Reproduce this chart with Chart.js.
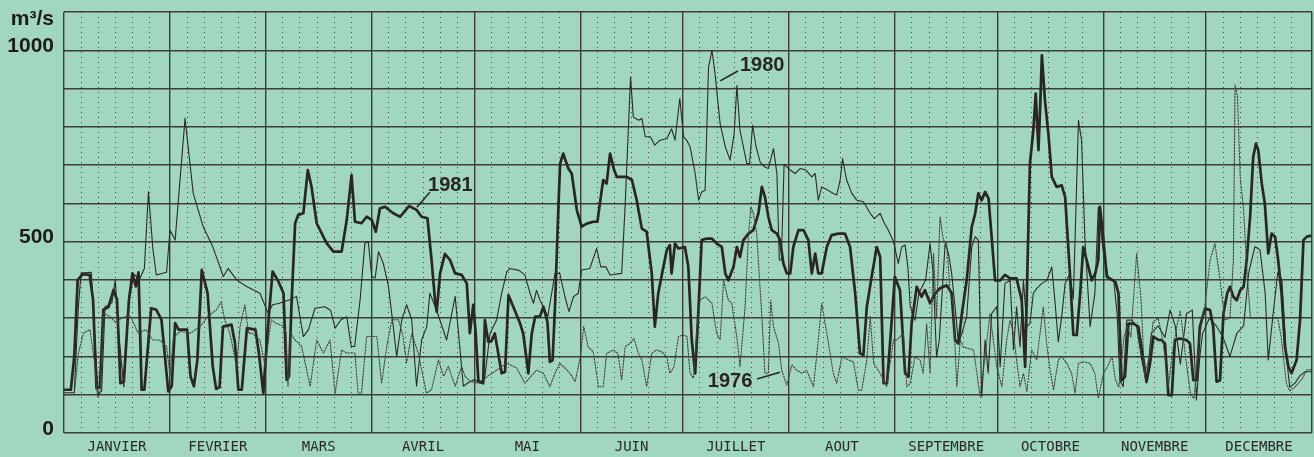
<!DOCTYPE html>
<html>
<head>
<meta charset="utf-8">
<script src="https://cdn.jsdelivr.net/npm/chart.js@4/dist/chart.umd.min.js"></script>
<style>
  html, body { margin: 0; padding: 0; background: #a1d7bf; }
  #wrap { width: 1314px; height: 457px; }
</style>
</head>
<body>
<div id="wrap"><canvas id="c" width="1314" height="457"></canvas></div>
<script>
// Daily discharge (m3/s) of the river, day of year -> flow, for three years.
const months = ['JANVIER','FEVRIER','MARS','AVRIL','MAI','JUIN','JUILLET','AOUT','SEPTEMBRE','OCTOBRE','NOVEMBRE','DECEMBRE'];
const monthLengths = [31,28,31,30,31,30,31,31,30,31,30,31];
const yLabels = { 0: '0', 500: '500', 1000: '1000', 1100: ['', 'm³/s'] };

const q1981 = [[0,113],[2,113],[3,200],[4,400],[5.5,415],[7.5,413],[8.5,348],[9.5,117],[10.5,120],[11.5,322],[13,329],[14.5,374],[15.5,348],[16.5,130],[17.5,135],[19,348],[20,417],[21,383],[21.8,420],[22.7,113],[23.5,113],[25.5,326],[27,322],[28.5,296],[30.5,109],[31.5,122],[32.5,287],[33.5,270],[36,270],[37,148],[38,122],[39,191],[40.3,426],[42,365],[43.5,174],[44.5,115],[45.5,120],[46.5,278],[49,283],[50,235],[51,113],[52,113],[53.5,274],[56,270],[57,209],[58.3,104],[59.5,261],[61,422],[62.7,396],[64.2,365],[65.1,139],[65.8,148],[66.6,350],[67.6,548],[68.5,570],[70,574],[71.3,687],[72.4,643],[73.9,548],[76.8,496],[78.8,474],[81.2,474],[82.7,557],[84.1,674],[85.1,552],[87,548],[88.5,565],[90,557],[91.2,526],[92.4,587],[93.9,591],[96.3,574],[98.3,565],[100.9,593],[103.1,583],[104.6,565],[106.3,561],[107.5,452],[108.5,348],[109,317],[110,417],[111.4,468],[112.9,452],[114.4,417],[116.3,413],[117.8,391],[118.7,261],[119.7,335],[120.4,261],[121.2,135],[122.6,130],[123.1,295],[124.1,238],[125,240],[126,260],[128,156],[129,160],[130,360],[131.4,330],[133.4,286],[134.3,260],[135.8,156],[136.8,260],[137.8,304],[139.2,304],[140.2,330],[141.4,290],[142.1,186],[142.9,190],[143.6,330],[144.6,591],[145.1,704],[146,730],[147.5,691],[148.5,678],[150,582],[151.4,539],[152.9,547],[154.8,552],[156,552],[157,617],[157.7,661],[158.7,652],[159.7,730],[160.9,687],[161.7,669],[163.1,669],[164.6,669],[166.1,661],[167.5,608],[169,534],[170.4,526],[171.9,417],[172.8,278],[173.8,365],[175.3,434],[176.3,478],[177.2,491],[177.7,417],[178.7,495],[179.7,482],[181.6,486],[182.6,434],[183.6,243],[184.6,156],[185.6,330],[186.5,504],[188,508],[189.5,508],[190.9,495],[192.4,486],[193.4,417],[194.3,399],[195.8,434],[196.8,486],[197.7,460],[198.7,504],[200.2,521],[201.6,530],[203.1,574],[204.1,643],[205,617],[206,565],[207,530],[208.5,521],[209.4,504],[210.4,443],[211.4,417],[212.4,417],[213.3,486],[214.8,530],[216.3,530],[217.7,504],[218.7,417],[219.7,469],[220.6,417],[221.6,417],[223.1,486],[224.5,517],[226.5,521],[228.4,521],[229.9,486],[231.4,365],[232.8,208],[233.8,204],[234.8,330],[236.2,408],[237.7,486],[238.7,460],[239.7,130],[240.7,130],[241.8,260],[243,408],[244.5,373],[246,156],[247,147],[247.9,286],[249.4,382],[250.8,356],[251.8,373],[253.3,339],[254.8,365],[256.2,378],[258.2,386],[259.6,365],[260.6,243],[261.6,234],[262.6,312],[264,399],[265.5,539],[266.5,574],[267.4,626],[268.4,608],[269.4,630],[270.4,613],[271.3,513],[272.3,399],[273.8,399],[275.2,413],[276.7,404],[278.6,404],[280.1,347],[281.1,173],[281.6,365],[282.5,704],[283.5,791],[284.2,887],[285,739],[285.5,852],[286,987],[286.9,869],[287.9,782],[288.9,669],[290.3,643],[291.8,647],[292.8,617],[294.2,417],[295.2,256],[296.2,256],[297.2,365],[298.1,486],[299.6,434],[300.6,399],[301.6,417],[302.5,452],[303,591],[304,504],[305,408],[306.5,400],[307.5,395],[308.4,365],[309.3,138],[310.3,147],[311.3,286],[312.8,286],[314.2,278],[315.7,191],[316.6,134],[317.6,180],[318.6,252],[320.1,243],[321,243],[322,234],[323,99],[324,99],[324.9,243],[326.4,247],[328.3,243],[329.3,234],[330.3,138],[331.3,138],[332.2,278],[333.7,325],[335.2,321],[336.1,278],[337.1,134],[338.1,138],[339.1,312],[340.2,365],[341,382],[342,356],[343,347],[344,373],[345,382],[345.9,452],[346.9,565],[347.8,721],[348.6,756],[349.3,739],[350.3,652],[351.2,600],[352.2,469],[353.2,521],[354.2,513],[355.1,452],[356.1,365],[357.1,225],[358.1,173],[359,156],[360.5,191],[361.5,295],[362.5,504],[363.5,513],[364.5,515]];

const q1980 = [[0,105],[3,105],[4.2,330],[5,418],[8,420],[9,250],[10,100],[11,110],[12,330],[14,340],[15,400],[16,260],[17.5,120],[19,350],[20.5,415],[22,400],[23.5,430],[24.7,630],[26,480],[27,413],[30,420],[31,530],[32.5,504],[35.4,822],[37.8,626],[40.7,539],[43.5,487],[46.6,409],[48,430],[50.5,400],[53.4,383],[57.3,365],[59.7,313],[61,335],[63,339],[66,348],[68,357],[70,252],[71.5,270],[73.4,326],[76.3,330],[78,320],[79.3,274],[81,296],[82.7,304],[84,226],[85,226],[86.6,348],[88,496],[89,500],[90,409],[91,405],[92,474],[93.4,443],[94.9,383],[96.3,278],[97.3,200],[98.8,296],[100.2,335],[101.7,296],[103.1,122],[104.6,243],[106.1,278],[107,365],[109,320],[111.9,243],[114.4,357],[116.8,122],[118,130],[120,140],[121.7,130],[123,140],[124.6,260],[126.5,295],[128,365],[129.5,421],[130.4,430],[133,425],[134.8,413],[136.3,365],[137.3,339],[138.2,373],[139.2,347],[140.2,330],[141.5,305],[143.6,417],[145,417],[146.5,356],[147.7,317],[149,356],[150.4,365],[151.4,426],[153.8,430],[155.8,482],[157,434],[158.5,434],[159.7,413],[163.1,417],[164.1,591],[165,782],[165.7,930],[166.5,826],[168,817],[169,822],[170,774],[171.5,774],[172.8,752],[174.3,765],[176.3,769],[177.7,795],[178.7,765],[180.1,874],[181.2,774],[182.1,765],[183.1,748],[184.6,678],[185.6,608],[186.5,630],[187.5,634],[188.5,956],[189.5,1000],[190.4,939],[191.9,808],[193.4,748],[194.8,713],[196,782],[196.8,908],[197.7,791],[199.7,704],[200.5,704],[201.4,804],[202.4,748],[203.6,708],[205,695],[206,691],[207.5,743],[208.5,678],[209.2,452],[209.8,452],[210.6,702],[212.4,687],[213.8,678],[215.3,691],[217,687],[218.7,669],[219.7,678],[220.6,608],[221.6,643],[223.5,634],[225,626],[226,622],[227,661],[227.7,717],[228.9,661],[230.4,626],[231.9,608],[233.8,604],[235.8,574],[237,560],[238.7,574],[239.7,552],[241.1,530],[242.6,500],[244,443],[245,486],[246,491],[246.8,434],[247.5,330],[248.9,295],[250,365],[252,400],[253.3,495],[254.2,417],[255.2,199],[256,243],[257.7,495],[258.7,469],[259.6,417],[260.6,330],[261.6,234],[262.6,260],[264,304],[265.5,486],[266.5,513],[267.4,504],[268.4,95],[269.4,243],[270.3,156],[271.3,312],[272.8,330],[273.8,173],[275.2,391],[276.7,399],[277.7,217],[278.6,330],[279.6,225],[280.6,399],[281.6,278],[282.5,286],[283.5,365],[284.5,378],[286,391],[287.5,399],[288.9,434],[289.8,347],[290.8,238],[291.8,304],[292.8,391],[294.2,417],[295.2,350],[296.7,817],[297.6,765],[298.6,504],[300.1,278],[301.5,365],[302.5,591],[304,469],[305.4,408],[307,400],[308,312],[308.8,138],[309.8,121],[310.8,295],[312.3,295],[313.7,278],[315.2,191],[316.6,130],[318,260],[320,280],[322,250],[323.5,321],[325,280],[326.5,180],[328.3,312],[330,321],[331.2,86],[332.2,200],[333,260],[335,300],[337,280],[339,250],[341,200],[343,260],[345,280],[346.5,420],[348.3,487],[349.8,478],[351.3,365],[352.2,191],[353.5,300],[355,420],[356.2,400],[357.5,200],[358.5,120],[360,130],[361.5,150],[363,160],[365,160]];

const q1976 = [[0,100],[3,100],[4.2,209],[5.7,261],[7.6,270],[9,180],[9.8,95],[10.5,100],[11.5,313],[13.5,304],[15,290],[16,296],[18,304],[19.5,304],[21.7,261],[24,270],[26,243],[28,243],[30,226],[31,150],[32,250],[34,265],[37,261],[39.8,278],[42,304],[44.6,322],[46,343],[47,296],[48.5,261],[50.5,174],[51.5,278],[52.9,335],[54,261],[55,261],[57.3,243],[58.8,174],[60.6,296],[62,287],[64,280],[65,261],[65.5,122],[66.3,260],[67.6,243],[69.5,226],[72,122],[73.9,243],[75.9,209],[77.8,243],[79.3,104],[81.2,217],[82.7,209],[85.1,209],[86,104],[87,104],[88.5,252],[91.5,252],[92.9,130],[94.4,226],[95.9,296],[97.8,296],[99,260],[100.2,183],[101.7,260],[103.6,209],[106,104],[107.5,113],[109.5,191],[111,148],[112.4,174],[114.4,122],[116.3,174],[117.3,148],[118.8,135],[121,130],[123.7,147],[126.5,164],[129.5,182],[132.4,170],[134.8,130],[136.8,150],[138.2,164],[140.2,156],[142.1,121],[143.6,156],[145,182],[146.5,170],[148,156],[149.5,134],[151,199],[152,278],[153.3,225],[154.8,212],[156.3,121],[157.7,121],[158.7,208],[160.7,217],[162,208],[163.1,138],[164.1,225],[165.5,234],[166.7,247],[168,208],[169,191],[170.4,121],[171.9,208],[173.3,217],[174.8,212],[176.3,199],[177.2,156],[178.4,173],[179.7,252],[181.1,256],[182.2,252],[183.1,156],[184.1,143],[185,260],[186,347],[187.5,356],[189.5,339],[190.9,260],[191.9,243],[192.9,399],[194.3,347],[195.3,339],[196.8,250],[197.7,173],[199.2,330],[200.2,521],[200.9,591],[201.6,574],[202.6,521],[204.1,304],[205,156],[206,156],[206.7,347],[207.5,278],[209,234],[209.9,164],[211.4,125],[212.9,178],[214.3,164],[215.8,156],[217.2,164],[219.2,121],[220.6,243],[221.6,339],[223.1,260],[225,156],[226,130],[227.5,199],[229.4,191],[230.9,186],[232.3,112],[233.3,112],[234.8,191],[235.8,304],[236.8,182],[238.7,156],[240.6,121],[242.6,243],[243.5,243],[245.5,260],[246.5,121],[247.5,130],[248.9,199],[250.4,190],[251.3,156],[252.3,286],[253.3,156],[254.3,469],[255.2,300],[256.2,565],[257.2,504],[258.2,495],[259.1,373],[260.1,330],[261.1,121],[262.1,243],[263,225],[266,217],[267,156],[267.9,95],[269.4,200],[270.8,312],[271.8,243],[272.8,173],[274.3,121],[275.7,243],[276.7,295],[277.7,260],[278.6,191],[279.6,121],[280.6,156],[281.6,108],[283,217],[284.5,191],[286.4,330],[287.4,234],[288.4,164],[289.4,112],[290.8,191],[291.8,199],[293.3,182],[294.7,156],[295.7,104],[296.7,182],[298.2,186],[300.1,182],[301.5,156],[302.5,91],[304,156],[305,170],[306.5,200],[307.5,140],[308.5,120],[310,250],[311,280],[312,250],[313.7,469],[315,350],[316,150],[317.5,200],[318.5,290],[320,300],[321,260],[322,200],[323,120],[324,200],[325.5,280],[326.5,320],[328,200],[329.5,100],[330.5,90],[332,250],[333.5,320],[335.2,452],[336.6,495],[338,408],[339.5,295],[341,300],[342,452],[342.5,909],[343.2,880],[344,669],[345,582],[345.9,434],[347,300],[349,300],[351,300],[353,300],[355,300],[356,250],[357.5,130],[358.5,110],[360,120],[362,140],[363.5,165],[365,165]];

// Year labels with their leader lines, in data units (day, flow).
const yearNotes = [
  { text: '1981', at: [113, 648], from: [103.2, 590], to: [107, 629] },
  { text: '1980', at: [204.2, 961], from: [191.9, 920], to: [197.1, 946] },
  { text: '1976', at: [194.8, 134], from: [202.7, 141], to: [209.4, 159] }
];

// Month boundaries, label positions and 5-day marks
const monthStarts = [0];
monthLengths.forEach((n, i) => monthStarts.push(monthStarts[i] + n));
const monthMids = monthLengths.map((n, i) => monthStarts[i] + n / 2);
const fiveDayMarks = [];
monthLengths.forEach((n, i) => { for (let d = 5; d <= 25; d += 5) fiveDayMarks.push(monthStarts[i] + d); });

const toPoints = arr => arr.map(([x, y]) => ({ x, y }));
const PAPER = '#a1d7bf';
const INK = '#2a2622';
const GRID = '#3f3d38';
const LABEL_FONT = '"Liberation Sans", Arial, sans-serif';

const notesPlugin = {
  id: 'yearNotes',
  afterDatasetsDraw(chart) {
    const { ctx, scales: { x, y } } = chart;
    ctx.save();
    ctx.strokeStyle = INK;
    ctx.fillStyle = INK;
    ctx.lineWidth = 1.6;
    ctx.font = 'bold 20px ' + LABEL_FONT;
    ctx.textAlign = 'center';
    ctx.textBaseline = 'middle';
    yearNotes.forEach(n => {
      ctx.beginPath();
      ctx.moveTo(x.getPixelForValue(n.from[0]), y.getPixelForValue(n.from[1]));
      ctx.lineTo(x.getPixelForValue(n.to[0]), y.getPixelForValue(n.to[1]));
      ctx.stroke();
      ctx.fillText(n.text, x.getPixelForValue(n.at[0]), y.getPixelForValue(n.at[1]));
    });
    ctx.restore();
  }
};

const bgPlugin = {
  id: 'paper',
  beforeDraw(chart) {
    const { ctx, width, height } = chart;
    ctx.save();
    ctx.fillStyle = PAPER;
    ctx.fillRect(0, 0, width, height);
    ctx.restore();
  }
};

new Chart(document.getElementById('c'), {
  type: 'line',
  data: {
    datasets: [
      { label: '1976', data: toPoints(q1976), borderColor: '#45433e', borderWidth: 1.1, borderDash: [1.5, 1.5] },
      { label: '1980', data: toPoints(q1980), borderColor: '#2e2a26', borderWidth: 1.1 },
      { label: '1981', data: toPoints(q1981), borderColor: INK, borderWidth: 2.7 }
    ]
  },
  options: {
    responsive: false,
    animation: false,
    devicePixelRatio: 1,
    elements: { point: { radius: 0 }, line: { tension: 0, borderJoinStyle: 'round', borderCapStyle: 'round' } },
    layout: { autoPadding: false, padding: { top: 12, right: 2, left: 0, bottom: 0 } },
    plugins: { legend: { display: false }, tooltip: { enabled: false } },
    scales: {
      x: {
        type: 'linear', min: 0, max: 365, position: 'bottom',
        afterBuildTicks: s => { s.ticks = monthStarts.concat(monthMids).sort((a, b) => a - b).map(v => ({ value: v })); },
        afterFit: s => { s.height = 24; s.paddingLeft = 0; s.paddingRight = 0; },
        grid: {
          color: c => (c.tick && monthStarts.includes(c.tick.value)) ? GRID : 'rgba(0,0,0,0)',
          lineWidth: 1.4, drawTicks: false
        },
        border: { display: false },
        ticks: {
          autoSkip: false, maxRotation: 0, padding: 6, color: '#2a2a2a',
          font: { family: '"DejaVu Sans Mono", monospace', size: 14 },
          callback: v => { const i = monthMids.indexOf(v); return i >= 0 ? months[i] : ''; }
        }
      },
      xDots: {
        type: 'linear', min: 0, max: 365, position: 'bottom',
        afterBuildTicks: s => { s.ticks = fiveDayMarks.map(v => ({ value: v })); },
        afterFit: s => { s.height = 0; s.paddingLeft = 0; s.paddingRight = 0; },
        grid: { color: '#4a4944', lineWidth: 1, drawTicks: false },
        border: { display: false, dash: [1, 4] },
        ticks: { display: false }
      },
      y: {
        min: 0, max: 1100,
        afterBuildTicks: s => { const t = []; for (let v = 0; v <= 1100; v += 100) t.push({ value: v }); s.ticks = t; },
        afterFit: s => { s.width = 64; s.paddingTop = 0; s.paddingBottom = 0; },
        grid: { color: GRID, lineWidth: 1.4, drawTicks: false },
        border: { display: false },
        ticks: {
          autoSkip: false, padding: 10, color: '#1e1c1a', labelOffset: -4,
          font: c => ({ family: LABEL_FONT, size: 21, weight: 'bold', lineHeight: (c.tick && c.tick.value === 1100) ? 1.1 : 1.2 }),
          callback: v => yLabels[v] ?? ''
        }
      }
    }
  },
  plugins: [bgPlugin, notesPlugin]
});
</script>
</body>
</html>
